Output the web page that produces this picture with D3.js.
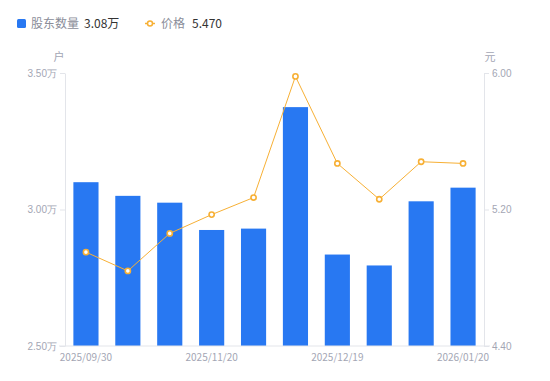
<!DOCTYPE html>
<html>
<head>
<meta charset="utf-8">
<script src="https://cdn.jsdelivr.net/npm/d3@7"></script>
<style>
  body { margin: 0; background: #fff; }
  svg { display: block; font-family: "Noto Sans CJK SC", "Noto Sans", sans-serif; }
</style>
</head>
<body>
<svg id="chart"></svg>
<script>
// data
const dates = ["2025/09/30", "2025/10/20", "2025/10/31", "2025/11/20", "2025/11/28",
  "2025/12/10", "2025/12/19", "2025/12/31", "2026/01/09", "2026/01/20"];
const holders = [3.10, 3.05, 3.025, 2.925, 2.93, 3.375, 2.835, 2.795, 3.03, 3.08]; // 万户
const prices = [4.95, 4.84, 5.06, 5.17, 5.27, 5.98, 5.47, 5.26, 5.48, 5.47];
const leftTicks = [2.5, 3.0, 3.5];
const rightTicks = [4.4, 5.2, 6.0];
const shownDates = ["2025/09/30", "2025/11/20", "2025/12/19", "2026/01/20"];

const width = 550, height = 381;
const margin = { top: 73, right: 66, bottom: 35, left: 65 };
const barColor = "#2878f2", lineColor = "#f7b035";
const axisColor = "#e3e5ea", labelColor = "#a3a6b4";

const svg = d3.select("#chart").attr("width", width).attr("height", height);

const x = d3.scaleBand().domain(dates)
  .range([margin.left, width - margin.right]).paddingInner(0.4).paddingOuter(0.2);
const yL = d3.scaleLinear().domain([2.5, 3.5]).range([height - margin.bottom, margin.top]);
const yR = d3.scaleLinear().domain([4.4, 6.0]).range([height - margin.bottom, margin.top]);

// bars
svg.append("g").selectAll("rect").data(holders).join("rect")
  .attr("x", (d, i) => x(dates[i]))
  .attr("y", d => yL(d))
  .attr("width", x.bandwidth())
  .attr("height", d => yL(2.5) - yL(d))
  .attr("fill", barColor);

// axes
function styleAxis(g) {
  g.select(".domain").attr("stroke", axisColor);
  g.selectAll(".tick line").attr("stroke", axisColor);
  g.selectAll(".tick text").attr("fill", labelColor).attr("font-size", 10);
}
svg.append("g").attr("transform", `translate(${margin.left},0)`)
  .call(d3.axisLeft(yL).tickValues(leftTicks).tickSize(5).tickSizeOuter(0)
    .tickFormat(d => d3.format(".2f")(d) + "万").tickPadding(3))
  .call(styleAxis);
svg.append("g").attr("transform", `translate(${width - margin.right},0)`)
  .call(d3.axisRight(yR).tickValues(rightTicks).tickSize(5).tickSizeOuter(0)
    .tickFormat(d3.format(".2f")).tickPadding(3))
  .call(styleAxis);
svg.append("line")
  .attr("x1", margin.left - 6).attr("x2", width - margin.right + 6)
  .attr("y1", yL(2.5)).attr("y2", yL(2.5))
  .attr("stroke", axisColor);

svg.append("g").selectAll("text").data(shownDates).join("text")
  .attr("x", d => x(d) + x.bandwidth() / 2)
  .attr("y", height - margin.bottom + 15)
  .attr("text-anchor", "middle")
  .attr("fill", labelColor).attr("font-size", 10)
  .text(d => d);

// axis names
svg.append("text").attr("x", 59).attr("y", 61).attr("text-anchor", "middle")
  .attr("fill", labelColor).attr("font-size", 11).text("户");
svg.append("text").attr("x", 490).attr("y", 61).attr("text-anchor", "middle")
  .attr("fill", labelColor).attr("font-size", 11).text("元");

// price line
const line = d3.line().x((d, i) => x(dates[i]) + x.bandwidth() / 2).y(d => yR(d));
svg.append("path").datum(prices).attr("d", line)
  .attr("fill", "none").attr("stroke", lineColor).attr("stroke-width", 1);
svg.append("g").selectAll("circle").data(prices).join("circle")
  .attr("cx", (d, i) => x(dates[i]) + x.bandwidth() / 2)
  .attr("cy", d => yR(d)).attr("r", 2.6)
  .attr("fill", "#fff").attr("stroke", lineColor).attr("stroke-width", 1.6);

// legend
const lg = svg.append("g").attr("font-size", 12);
lg.append("rect").attr("x", 17).attr("y", 19).attr("width", 9).attr("height", 9)
  .attr("rx", 1.5).attr("fill", barColor);
lg.append("text").attr("x", 31).attr("y", 28).attr("fill", "#8a8d99").text("股东数量");
lg.append("text").attr("x", 84).attr("y", 28).attr("fill", "#333").text(d3.format(".2f")(holders[9]) + "万");
lg.append("line").attr("x1", 145).attr("x2", 155).attr("y1", 23.5).attr("y2", 23.5)
  .attr("stroke", lineColor).attr("stroke-width", 1.5);
lg.append("circle").attr("cx", 150).attr("cy", 23.5).attr("r", 2.5)
  .attr("fill", "#fff").attr("stroke", lineColor).attr("stroke-width", 1.5);
lg.append("text").attr("x", 161).attr("y", 28).attr("fill", "#8a8d99").text("价格");
lg.append("text").attr("x", 192).attr("y", 28).attr("fill", "#333").text(d3.format(".3f")(prices[9]));
</script>
</body>
</html>
